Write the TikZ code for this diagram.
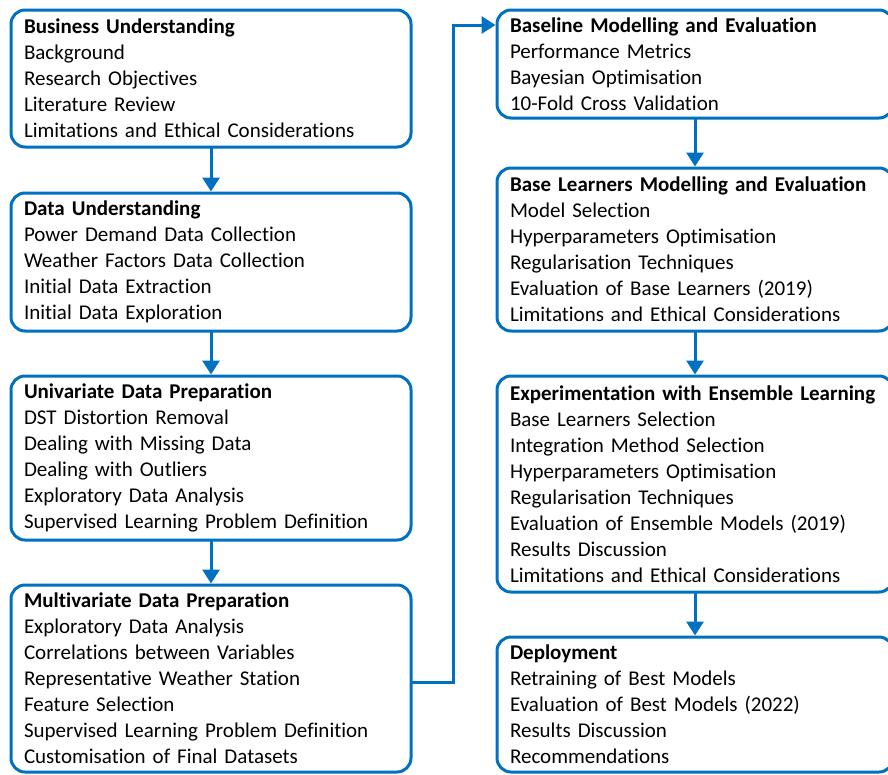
\documentclass[tikz,border=0pt]{standalone}
\usepackage{fontspec}
\setmainfont{Carlito}[Ligatures=NoCommon]
\usepackage{tikz}
\usetikzlibrary{arrows.meta,positioning,calc}
\definecolor{stageblue}{HTML}{0070C0}

\begin{document}
\begin{tikzpicture}[x=1pt,y=-1pt,line width=3pt,
		stage node/.style={rectangle, draw=stageblue, rounded corners=14pt, align=left, outer sep=0pt, inner xsep=13pt, inner ysep=0pt, font=\fontsize{21}{26}\selectfont},
		left node/.style={stage node, text width=374pt},
		right node/.style={stage node, text width=370pt},
		flow/.style={draw=stageblue, shorten >=1.5pt, -{Triangle[length=14pt,width=17pt]}}]

	\useasboundingbox (0,0) rectangle (888,774);

	\node[left node, minimum height=137pt, anchor=north west] (1) at (11,10) {\textbf{Business Understanding}\\ Background\\ Research Objectives\\ Literature Review\\ Limitations and Ethical Considerations};
	\node[left node, minimum height=138pt] (2) [below=46pt of 1] {\textbf{Data Understanding}\\ Power Demand Data Collection\\ Weather Factors Data Collection\\ Initial Data Extraction\\ Initial Data Exploration};
	\node[left node, minimum height=164pt] (3) [below=45pt of 2] {\textbf{Univariate Data Preparation}\\ DST Distortion Removal\\ Dealing with Missing Data\\ Dealing with Outliers\\ Exploratory Data Analysis\\ Supervised Learning Problem Definition};
	\node[left node, minimum height=187pt] (4) [below=45pt of 3] {\textbf{Multivariate Data Preparation}\\ Exploratory Data Analysis\\ Correlations between Variables\\ Representative Weather Station\\ Feature Selection\\ Supervised Learning Problem Definition\\ Customisation of Final Datasets};

	\node[right node, minimum height=108pt, anchor=north west] (5) at (497,10) {\textbf{Baseline Modelling and Evaluation}\\ Performance Metrics\\ Bayesian Optimisation\\ 10-Fold Cross Validation};
	\node[right node, minimum height=163pt] (6) [below=50pt of 5] {\textbf{Base Learners Modelling and Evaluation}\\ Model Selection\\ Hyperparameters Optimisation\\ Regularisation Techniques\\ Evaluation of Base Learners (2019)\\ Limitations and Ethical Considerations};
	\node[right node, minimum height=216pt] (7) [below=45pt of 6] {\textbf{Experimentation with Ensemble Learning}\\ Base Learners Selection\\ Integration Method Selection\\ Hyperparameters Optimisation\\ Regularisation Techniques\\ Evaluation of Ensemble Models (2019)\\ Results Discussion\\ Limitations and Ethical Considerations};
	\node[right node, minimum height=135pt] (8) [below=45pt of 7] {\textbf{Deployment}\\ Retraining of Best Models\\ Evaluation of Best Models (2022)\\ Results Discussion\\ Recommendations};

	\coordinate[yshift=-3.5pt] (11) at (4.east);
	\coordinate[right=42pt of 11] (9);
	\coordinate[below=15pt of 5.north west] (10);

		\path	(1) 	edge[flow] (2);
		\path	(2) 	edge[flow] (3);
		\path	(3) 	edge[flow] (4);
		\path	(5) 	edge[flow] (6);
		\path	(6) 	edge[flow] (7);
		\path	(7) 	edge[flow] (8);
		\draw[flow]	(11) -- (9) |- (10);
\end{tikzpicture}
\end{document}
